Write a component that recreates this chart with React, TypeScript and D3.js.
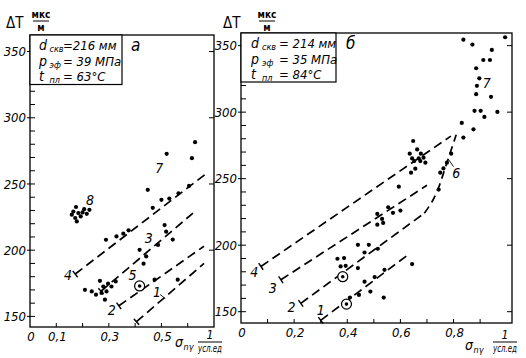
import React from 'react';
import * as d3 from 'd3';

type Pt = [number, number];

const FONT = '"Liberation Sans Narrow", "DejaVu Sans Condensed", "Liberation Sans", sans-serif';

// ---- panel "а" data ----
const leftCluster8: Pt[] = [
  [0.175, 232.6], [0.226, 230.5], [0.159, 226.8], [0.172, 224.3], [0.184, 228],
  [0.2, 228.5], [0.216, 227.5], [0.178, 221.7], [0.165, 229.2], [0.193, 225.5], [0.206, 231],
];
const leftCluster5: Pt[] = [
  [0.209, 170.1], [0.235, 168.9], [0.266, 176.9], [0.279, 172.6], [0.297, 174.7],
  [0.31, 172.6], [0.326, 176.4], [0.272, 167.7], [0.285, 162.6], [0.251, 166.4], [0.291, 168.9],
];
const leftGroup7: Pt[] = [
  [0.628, 281.6], [0.52, 272.8], [0.616, 269.5], [0.448, 245.6],
  [0.467, 232], [0.5, 238], [0.53, 239], [0.565, 243], [0.605, 248.5],
  [0.289, 207.9], [0.329, 210.4], [0.355, 212.5], [0.375, 215],
];
const leftMiddle: Pt[] = [
  [0.512, 219], [0.518, 214], [0.543, 208], [0.487, 204], [0.417, 200.3],
  [0.442, 195.3], [0.432, 189.8], [0.474, 177.7], [0.562, 177.7],
];
const leftCircled: Pt[] = [[0.417, 173]];
const leftLine1: Pt[] = [[0.405, 146], [0.662, 190]];
const leftLine2: Pt[] = [[0.338, 158], [0.662, 203]];
const leftLine3: Pt[] = [[0.27, 169], [0.62, 228]];
const leftLine4: Pt[] = [[0.172, 182], [0.665, 257]];
const leftXTickValues = [0, 0.1, 0.3, 0.5];
const leftXTickLabels = ['0', '0,1', '0,3', '0,5'];
const leftLegend = [['d', 'скв', '=216 мм'], ['p', 'эф', '= 39 МПа'], ['t', 'пл', '= 63°C']];

// ---- panel "б" data ----
const rightGroup7: Pt[] = [
  [0.837, 354.5], [0.871, 350.8], [0.994, 356.3], [0.944, 346.8], [0.912, 339.2],
  [0.937, 339.2], [0.885, 333], [0.897, 325.4], [0.888, 319.8], [0.885, 313.5],
  [0.941, 311.5], [0.879, 301], [0.902, 301], [0.916, 296.4], [0.965, 300.2],
  [0.831, 291.9], [0.875, 287.1], [0.837, 280.9],
];
const rightCluster: Pt[] = [
  [0.648, 278.3], [0.663, 272], [0.635, 268.8], [0.644, 265.2], [0.652, 263.2],
  [0.669, 265.2], [0.687, 265.8], [0.694, 262], [0.675, 263.2], [0.656, 257.5],
  [0.64, 254.5], [0.677, 268.8],
];
const rightCurveDots: Pt[] = [[0.791, 268.8], [0.775, 262], [0.762, 257.7], [0.75, 254.5], [0.744, 241.8]];
const rightMiddle: Pt[] = [
  [0.594, 244], [0.554, 228.5], [0.572, 224.3], [0.6, 226], [0.513, 223.5],
  [0.531, 219.7], [0.535, 216.7], [0.513, 215.4], [0.44, 200.3], [0.481, 200.3],
  [0.465, 194.5], [0.515, 197.3], [0.363, 189.8], [0.388, 190.3], [0.375, 184],
  [0.394, 184.5], [0.44, 182.8], [0.465, 172.6], [0.503, 176], [0.54, 181.5],
  [0.644, 185.8], [0.444, 162.6], [0.487, 165.1], [0.41, 160.6], [0.537, 160.6],
];
const rightCircled: Pt[] = [[0.383, 176.3], [0.397, 155.7]];
const rightLine1: Pt[] = [[0.3, 143.5], [0.637, 194]];
const rightLine2: Pt[] = [[0.225, 156.3], [0.69, 224]];
const rightLine3: Pt[] = [[0.15, 174], [0.7, 245]];
const rightLine4: Pt[] = [[0.075, 184], [0.79, 282]];
const rightCurve6: Pt[] = [[0.69, 224], [0.72, 233], [0.745, 244], [0.77, 259], [0.81, 283]];
const rightXTickValues = [0, 0.2, 0.4, 0.6, 0.8];
const rightXTickLabels = ['0', '0,2', '0,4', '0,6', '0,8'];
const rightLegend = [['d', 'скв', '= 214 мм'], ['p', 'эф', '= 35 МПа'], ['t', 'пл', '= 84°C']];

const yMajor = [150, 200, 250, 300, 350];

function Panel(props: any) {
  const { frame, xDomain, yDomain, xTickValues, xTickLabels, rightTicks, dots, circled, lines, curve,
    labels, leaders, legend, box, letter, title, xTitle } = props;
  const x = d3.scaleLinear().domain(xDomain).range([frame.x0, frame.x1]);
  const y = d3.scaleLinear().domain(yDomain).range([frame.y1, frame.y0]);
  const line = d3.line<Pt>().x(d => x(d[0])).y(d => y(d[1]));
  const smooth = d3.line<Pt>().x(d => x(d[0])).y(d => y(d[1])).curve(d3.curveCatmullRom);
  const minorY = d3.range(150, 351, 10);
  const minorX = d3.range(1, Math.floor(xDomain[1] * 10 - 0.5) + 1).map(i => i / 10);

  const startBar = (pts: Pt[]) => {
    const ax = x(pts[0][0]), ay = y(pts[0][1]);
    const bx = x(pts[1][0]), by = y(pts[1][1]);
    const len = Math.hypot(bx - ax, by - ay);
    const nx = -(by - ay) / len, ny = (bx - ax) / len;
    return <line x1={ax - nx * 4} y1={ay - ny * 4} x2={ax + nx * 4} y2={ay + ny * 4} stroke="#000" strokeWidth={1.4} />;
  };

  return (
    <g fontFamily={FONT} fill="#000">
      <rect x={frame.x0} y={frame.y0} width={frame.x1 - frame.x0} height={frame.y1 - frame.y0}
        fill="none" stroke="#000" strokeWidth={1.3} />
      {minorY.map(v => (
        <line key={'my' + v} x1={yMajor.includes(v) ? frame.x0 - 3 : frame.x0} x2={frame.x0 + 5}
          y1={y(v)} y2={y(v)} stroke="#000" strokeWidth={1} />
      ))}
      {rightTicks.map((v: number) => (
        <line key={'ry' + v} x1={frame.x1 - 5} x2={frame.x1} y1={y(v)} y2={y(v)} stroke="#000" strokeWidth={1} />
      ))}
      {minorX.map(v => (
        <line key={'mx' + v} x1={x(v)} x2={x(v)} y1={frame.y1} y2={frame.y1 - 4} stroke="#000" strokeWidth={1} />
      ))}
      {yMajor.map(v => (
        <text key={'yl' + v} x={frame.x0 - 4} y={y(v)} dy="0.35em" textAnchor="end" fontSize={13} fontStyle="italic">{v}</text>
      ))}
      {xTickValues.map((v: number, i: number) => (
        <text key={'xl' + v} x={x(v) + 1} y={frame.y1 + 14} textAnchor="middle" fontSize={13} fontStyle="italic">{xTickLabels[i]}</text>
      ))}

      {/* legend box */}
      <rect x={frame.x0} y={frame.y0} width={box.w} height={box.h} fill="#fff" stroke="#000" strokeWidth={1.2} />
      {legend.map((row: string[], i: number) => (
        <g key={'lg' + i} fontStyle="italic">
          <text x={frame.x0 + box.dx[0]} y={frame.y0 + 15 + i * 15.5} fontSize={14}>{row[0]}</text>
          <text x={frame.x0 + box.dx[1]} y={frame.y0 + 17 + i * 15.5} fontSize={9}>{row[1]}</text>
          <text x={frame.x0 + box.dx[2]} y={frame.y0 + 15 + i * 15.5} fontSize={13}>{row[2]}</text>
        </g>
      ))}
      <text x={letter.x} y={letter.y} fontSize={17} fontStyle="italic">{letter.text}</text>

      {/* axis titles */}
      <text x={title.x} y={28} fontSize={15}>ΔT</text>
      <text x={title.fx} y={18} fontSize={10} fontWeight="bold" textAnchor="middle">мкс</text>
      <line x1={title.fx - 8} x2={title.fx + 8} y1={21} y2={21} stroke="#000" strokeWidth={1} />
      <text x={title.fx} y={31} fontSize={10} fontWeight="bold" textAnchor="middle">м</text>

      <text x={xTitle.x} y={xTitle.y} fontSize={14} fontStyle="italic">σ</text>
      <text x={xTitle.x + 8.5} y={xTitle.y + 3} fontSize={9} fontStyle="italic">nγ</text>
      <text x={xTitle.fx} y={xTitle.fy - 8} fontSize={12} fontStyle="italic" textAnchor="middle">1</text>
      <line x1={xTitle.fx - 12} x2={xTitle.fx + 12} y1={xTitle.fy - 5} y2={xTitle.fy - 5} stroke="#000" strokeWidth={1} />
      <text x={xTitle.fx - 12} y={xTitle.fy + 5} fontSize={10} fontStyle="italic" textLength={24}
        lengthAdjust="spacingAndGlyphs">усл.ед</text>

      {/* dashed lines */}
      {lines.map((pts: Pt[], i: number) => (
        <g key={'ln' + i}>
          <path d={line(pts) || ''} fill="none" stroke="#000" strokeWidth={1.7} strokeDasharray="9 5" />
          {startBar(pts)}
        </g>
      ))}
      {curve && <path d={smooth(curve) || ''} fill="none" stroke="#000" strokeWidth={1.7} strokeDasharray="8 5" />}
      {leaders.map((l: Pt[], i: number) => (
        <line key={'ld' + i} x1={x(l[0][0])} y1={y(l[0][1])} x2={x(l[1][0])} y2={y(l[1][1])} stroke="#000" strokeWidth={0.9} />
      ))}

      {dots.map((d: Pt, i: number) => (
        <circle key={'d' + i} cx={x(d[0])} cy={y(d[1])} r={2.1} fill="#000" />
      ))}
      {circled.map((d: Pt, i: number) => (
        <g key={'c' + i}>
          <circle cx={x(d[0])} cy={y(d[1])} r={5} fill="#fff" stroke="#000" strokeWidth={1.2} />
          <circle cx={x(d[0])} cy={y(d[1])} r={1.8} fill="#000" />
        </g>
      ))}
      {labels.map((l: any, i: number) => (
        <text key={'lb' + i} x={x(l.p[0])} y={y(l.p[1])} dy="0.35em" textAnchor="middle" fontSize={14} fontStyle="italic">{l.t}</text>
      ))}
    </g>
  );
}

export default function App() {
  return (
    <svg width={526} height={358} style={{ position: 'absolute', left: 0, top: 0, background: '#fff' }}>
      <Panel
        frame={{ x0: 30, x1: 214, y0: 35, y1: 327 }}
        xDomain={[0, 0.7]}
        yDomain={[142, 362.5]}
        xTickValues={leftXTickValues}
        xTickLabels={leftXTickLabels}
        rightTicks={[200, 250, 300, 350]}
        dots={[...leftCluster8, ...leftCluster5, ...leftGroup7, ...leftMiddle]}
        circled={leftCircled}
        lines={[leftLine1, leftLine2, leftLine3, leftLine4]}
        curve={null}
        leaders={[[[0.495, 166.5], [0.515, 163.5]]]}
        labels={[
          { t: '1', p: [0.483, 168] }, { t: '2', p: [0.311, 155] }, { t: '3', p: [0.452, 209] },
          { t: '4', p: [0.145, 181] }, { t: '5', p: [0.39, 181.5] }, { t: '7', p: [0.492, 262] },
          { t: '8', p: [0.228, 238] },
        ]}
        legend={leftLegend}
        box={{ w: 92, h: 49.5, dx: [9, 19.5, 33] }}
        letter={{ x: 131, y: 51, text: 'а' }}
        title={{ x: 6, fx: 41 }}
        xTitle={{ x: 175, y: 347, fx: 210, fy: 347 }}
      />
      <Panel
        frame={{ x0: 241, x1: 512, y0: 33, y1: 323 }}
        xDomain={[0, 1.02]}
        yDomain={[141.5, 359.5]}
        xTickValues={rightXTickValues}
        xTickLabels={rightXTickLabels}
        rightTicks={[150, 200, 250, 300, 350]}
        dots={[...rightGroup7, ...rightCluster, ...rightCurveDots, ...rightMiddle]}
        circled={rightCircled}
        lines={[rightLine1, rightLine2, rightLine3, rightLine4]}
        curve={rightCurve6}
        leaders={[[[0.781, 264.5], [0.8, 259]]]}
        labels={[
          { t: '1', p: [0.3, 151] }, { t: '2', p: [0.19, 153.5] }, { t: '3', p: [0.12, 167.5] },
          { t: '4', p: [0.05, 180] }, { t: '6', p: [0.81, 254] }, { t: '7', p: [0.925, 321.6] },
        ]}
        legend={rightLegend}
        box={{ w: 95, h: 49, dx: [10, 21, 38] }}
        letter={{ x: 346, y: 49, text: 'б' }}
        title={{ x: 223, fx: 267 }}
        xTitle={{ x: 465, y: 350, fx: 505, fy: 347 }}
      />
    </svg>
  );
}
